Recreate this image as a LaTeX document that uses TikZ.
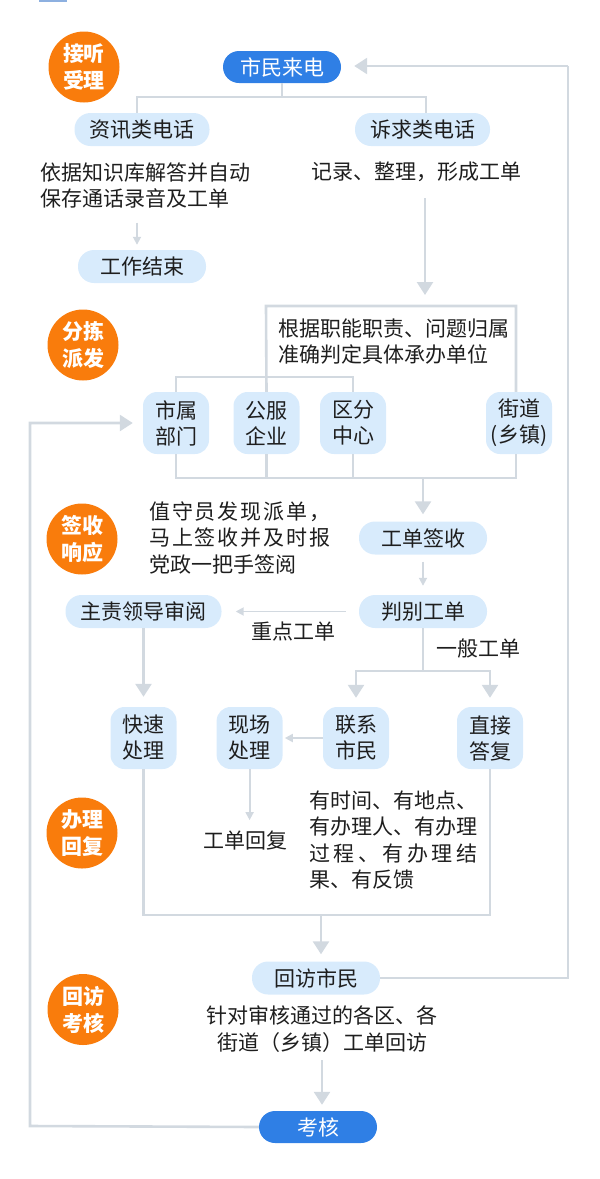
\documentclass[tikz,border=0pt]{standalone}
\usepackage{fontspec}
\setmainfont{Noto Sans CJK SC}
\usepackage{tikz}
\usetikzlibrary{positioning, arrows.meta, calc}
\definecolor{stageorange}{HTML}{F97C0C}
\definecolor{callblue}{HTML}{2F7FE5}
\definecolor{boxblue}{HTML}{D8EBFC}
\definecolor{linegray}{HTML}{D2D9E0}
\definecolor{textdark}{HTML}{1E1E1E}
\definecolor{barblue}{HTML}{8DB0E0}

\begin{document}
\begin{tikzpicture}[x=1pt, y=-1pt,
  font=\fontsize{21}{26.5}\selectfont,
  every node/.style={text=textdark},
  line/.style={draw=linegray, line width=2.6pt},
  thinline/.style={draw=linegray, line width=1.8pt},
  big/.style={line, -{Triangle[width=16pt,length=13pt]}},
  small/.style={thinline, -{Triangle[width=8pt,length=8pt]}},
  stage/.style={circle, fill=stageorange, text=white, minimum size=71pt, inner sep=0pt,
    align=center, font=\bfseries\fontsize{21}{27}\selectfont},
  start/.style={rounded corners=16pt, fill=callblue, text=white, minimum width=118pt,
    minimum height=32pt, inner sep=0pt},
  pill/.style={rounded corners=16pt, fill=boxblue, minimum width=128pt, minimum height=33pt,
    inner xsep=15pt, inner ysep=0pt},
  block/.style={rounded corners=14pt, fill=boxblue, minimum width=66pt, minimum height=62pt,
    inner sep=0pt, align=center, font=\fontsize{21}{26}\selectfont},
  note/.style={inner sep=0pt, align=left},
]
  \useasboundingbox (0,0) rectangle (600,1179);
  \fill[barblue] (39,0) rectangle (67,2);

  % stages
  \node[stage] (s1) at (84,67) {接听\\受理};
  \node[stage] (s2) at (83,345) {分拣\\派发};
  \node[stage] (s3) at (82,539) {签收\\响应};
  \node[stage] (s4) at (82,833) {办理\\回复};
  \node[stage] (s5) at (83,1009.5) {回访\\考核};

  % accept
  \node[start] (call) at (282,67) {市民来电};
  \node[pill] (info) at (142,129.5) {资讯类电话};
  \node[pill] (appeal) at (422.5,129.5) {诉求类电话};
  \node[note, anchor=west] (infotext) at (40,185.5) {依据知识库解答并自动\\保存通话录音及工单};
  \node[note] (appealtext) at (416,172) {记录、整理，形成工单};
  \node[pill] (finish) at (142,266.5) {工作结束};

  % dispatch
  \node[note, anchor=west] (ruletext) at (278,341.5) {根据职能职责、问题归属\\准确判定具体承办单位};
  \node[block] (city) at (176,423) {市属\\部门};
  \node[block] (utility) at (266.5,423) {公服\\企业};
  \node[block] (district) at (353,423) {区分\\中心};
  \node[block] (street) at (519,423) {街道\\(乡镇)};

  % sign
  \node[note, anchor=west] (signtext) at (149,537.5)
    {\makebox[181pt][s]{值\hfil 守\hfil 员\hfil 发\hfil 现\hfil 派\hfil 单\hfil ，}\\
     \makebox[181pt][s]{马\hfil 上\hfil 签\hfil 收\hfil 并\hfil 及\hfil 时\hfil 报}\\
     党政一把手签阅};
  \node[pill] (receipt) at (423,538) {工单签收};
  \node[pill] (judge) at (423,611.5) {判别工单};
  \node[pill] (review) at (143.5,611.5) {主责领导审阅};
  \node[note] (keytext) at (293,631) {重点工单};
  \node[note] (normaltext) at (478,649) {一般工单};

  % handle
  \node[block] (quick) at (143.5,738) {快速\\处理};
  \node[block] (site) at (249.6,738) {现场\\处理};
  \node[block] (contact) at (356,738) {联系\\市民};
  \node[block] (direct) at (490,738) {直接\\答复};
  \node[note] (replytext) at (245,841) {工单回复};
  \node[note, anchor=west] (reqtext) at (309,840)
    {有时间、有地点、\\
     \makebox[168pt][s]{有\hfil 办\hfil 理\hfil 人\hfil 、\hfil 有\hfil 办\hfil 理}\\
     \makebox[168pt][s]{过\hfil 程\hfil 、\hfil 有\hfil 办\hfil 理\hfil 结}\\
     果、有反馈};

  % revisit
  \node[pill] (revisit) at (316,978) {回访市民};
  \node[note, align=center] (visittext) at (322,1029) {针对审核通过的各区、各\\街道（乡镇）工单回访};
  \node[start] (assess) at (318,1127) {考核};

  % junctions
  \coordinate (callsplit) at (282,97);
  \coordinate (boxtl) at (266,306);
  \coordinate (boxtr) at (516,306);
  \coordinate (sortin) at (425,306);
  \coordinate (dist) at (266,377);
  \coordinate (gather) at (423,478);
  \coordinate (normal) at (423,671);
  \coordinate (reply) at (321,915);
  \coordinate (backtop) at (568,66);
  \coordinate (backleft) at (30,1126);

  % connectors
  \draw[line] (call) -- (callsplit);
  \draw[line] ([xshift=-5pt]info.north) |- (callsplit) -| ([xshift=3.5pt]appeal.north);
  \draw[small, shorten <=14pt, shorten >=5pt] ([xshift=-5pt]finish.north |- infotext.south) -- ([xshift=-5pt]finish.north);
  \draw[big, shorten <=16pt] (sortin |- appealtext.south) -- ([yshift=11pt]sortin);
  \draw[line] (utility.north) -- (boxtl) -- (boxtr) -- ([xshift=-3pt]street.north);
  \draw[line] (city.north) |- (dist) -| (district.north);
  \draw[line] (city.south) |- (gather) -| ([xshift=-3pt]street.south);
  \draw[line] (utility.south) -- (utility.south |- gather);
  \draw[line] (district.south) -- (district.south |- gather);
  \draw[big, shorten >=7pt] (gather) -- (receipt.north);
  \draw[small, shorten <=7pt, shorten >=9pt] (receipt) -- (judge);
  \draw[small, shorten <=13pt, shorten >=14pt] (judge) -- (review);
  \draw[line] (judge) -- (normal);
  \draw[big, shorten >=9pt] (normal) -| (contact.north);
  \draw[big, shorten >=9pt] (normal) -| (direct.north);
  \draw[big, shorten >=10pt] (review) -- (quick.north);
  \draw[small, shorten >=2pt] (contact) -- (site);
  \draw[small, shorten >=11pt] (site.south) -- (site.south |- replytext.north);
  \draw[line] (quick) |- (reply) -| (direct);
  \draw[big, shorten >=7pt] (reply) -- (reply |- revisit.north);
  \draw[line] (revisit) -| (backtop);
  \draw[big, shorten >=13pt] (backtop) -- (backtop -| call.east);
  \draw[big, shorten <=8pt, shorten >=6pt] (visittext.south) -- (visittext.south |- assess.north);
  \draw[big, shorten >=10pt] (assess.west) -- (backleft) |- (city.west);
\end{tikzpicture}
\end{document}
